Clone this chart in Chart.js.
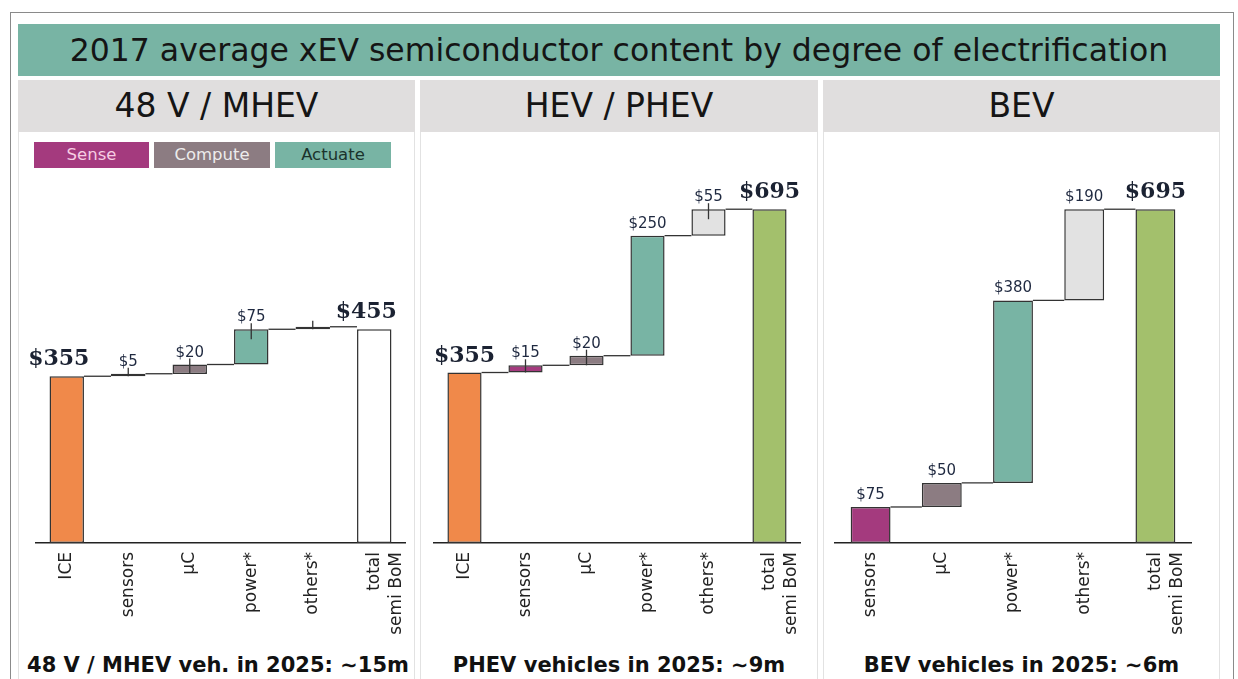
<!DOCTYPE html>
<html>
<head>
<meta charset="utf-8">
<script src="https://cdn.jsdelivr.net/npm/chart.js@4.4.1/dist/chart.umd.min.js"></script>
<style>
  body { margin: 0; background: #fff; font-family: "DejaVu Sans", Verdana, sans-serif; }
  #frame { position: absolute; left: 10px; top: 12px; width: 1222px; height: 700px; border: 1px solid #8a8a8a; }
  #title { position: absolute; left: 18px; top: 24px; width: 1202px; height: 52px; background: #78b4a4;
    color: #151515; font-size: 31.5px; line-height: 52px; text-align: center; }
  .head { position: absolute; top: 80px; height: 52px; background: #e0dede; color: #151515;
    font-size: 33px; line-height: 52px; text-align: center; }
  .body { position: absolute; top: 132px; height: 560px; background: #fff; box-sizing: border-box;
    border-left: 1px solid #e2e2e2; border-right: 1px solid #e2e2e2; }
  canvas { position: absolute; top: 132px; }
  .leg { position: absolute; top: 142px; height: 26px; line-height: 26px; text-align: center; font-size: 16.5px; }
  .foot { position: absolute; top: 651px; height: 28px; line-height: 28px; text-align: center;
    font-size: 21px; font-weight: bold; color: #111; white-space: nowrap; }
</style>
</head>
<body>
<div id="frame"></div>
<div id="title">2017 average xEV semiconductor content by degree of electrification</div>

<div class="head" style="left:18px;width:397px">48 V / MHEV</div>
<div class="head" style="left:420px;width:398px">HEV / PHEV</div>
<div class="head" style="left:823px;width:397px">BEV</div>

<div class="body" style="left:18px;width:397px"></div>
<div class="body" style="left:420px;width:398px"></div>
<div class="body" style="left:823px;width:397px"></div>

<div class="leg" style="left:34px;width:115px;background:#a43a7e;color:#f6cde3">Sense</div>
<div class="leg" style="left:154px;width:116px;background:#8c7c82;color:#ececec">Compute</div>
<div class="leg" style="left:275px;width:116px;background:#78b4a4;color:#1b332c">Actuate</div>

<canvas id="c1" width="397" height="518" style="left:18px"></canvas>
<canvas id="c2" width="398" height="518" style="left:420px"></canvas>
<canvas id="c3" width="397" height="518" style="left:823px"></canvas>

<div class="foot" style="left:18px;width:400px">48 V / MHEV veh. in 2025: ∼15m</div>
<div class="foot" style="left:420px;width:398px">PHEV vehicles in 2025: ∼9m</div>
<div class="foot" style="left:823px;width:397px">BEV vehicles in 2025: ∼6m</div>

<script>
// --- data ---
const mhevLabels = ["ICE", "sensors", "µC", "power*", "others*", ["total", "semi BoM"]];
const mhevValues = [355, 5, 20, 75, 0, 455];

const phevLabels = ["ICE", "sensors", "µC", "power*", "others*", ["total", "semi BoM"]];
const phevValues = [355, 15, 20, 250, 55, 695];

const bevLabels = ["sensors", "µC", "power*", "others*", ["total", "semi BoM"]];
const bevValues = [75, 50, 380, 190, 695];

const yMax = 760;

// colours
const ORANGE = "#f0894a", MAGENTA = "#a43a7e", MAUVE = "#8c7c82",
  TEAL = "#78b4a4", LIGHT = "#e2e2e2", GREEN = "#a3c06c";

// turn step values into floating [start, end] bars; totals start at 0
function toRanges(labels, values) {
  let running = 0;
  return values.map((v, i) => {
    if (Array.isArray(labels[i])) return [0, v];
    const r = [running, running + v];
    running += v;
    return r;
  });
}

// connectors, little whisker ticks and $ labels
const waterfallExtras = {
  id: "waterfallExtras",
  afterDatasetsDraw(chart) {
    const ctx = chart.ctx;
    const cfg = chart.options.plugins.waterfallExtras;
    const bars = chart.getDatasetMeta(0).data;
    const labels = chart.data.labels;
    ctx.save();
    ctx.strokeStyle = "#333";
    ctx.lineWidth = 1.3;
    // connectors
    for (let i = 0; i < bars.length - 1; i++) {
      const a = bars[i], b = bars[i + 1];
      ctx.beginPath();
      ctx.moveTo(a.x + a.width / 2, a.y);
      ctx.lineTo(b.x - b.width / 2, a.y);
      ctx.stroke();
    }
    // whiskers
    bars.forEach((bar, i) => {
      if (!cfg.whiskers[i]) return;
      ctx.beginPath();
      ctx.moveTo(bar.x, bar.y - 6);
      ctx.lineTo(bar.x, Math.min(bar.y + 10, bar.base));
      ctx.stroke();
    });
    // value labels
    ctx.textAlign = "center";
    ctx.textBaseline = "alphabetic";
    bars.forEach((bar, i) => {
      const v = cfg.values[i];
      if (!v) return;
      const big = labels[i] === "ICE" || Array.isArray(labels[i]);
      if (big) {
        ctx.font = "bold 22px 'DejaVu Serif', serif";
        ctx.fillStyle = "#1b2232";
        ctx.fillText("$" + v, bar.x + cfg.bigShift, bar.y - 11);
      } else {
        ctx.font = "15px 'DejaVu Sans', sans-serif";
        ctx.fillStyle = "#1f2940";
        ctx.fillText("$" + v, bar.x, bar.y - 8);
      }
    });
    ctx.restore();
  },
};

function makeChart(id, labels, values, colors, pad, whiskers, bigShift) {
  return new Chart(document.getElementById(id), {
    type: "bar",
    data: {
      labels: labels,
      datasets: [
        {
          data: toRanges(labels, values),
          backgroundColor: colors,
          borderColor: "#333",
          borderWidth: 1.5,
          borderSkipped: false,
          minBarLength: 2.5,
          barPercentage: 0.56,
          categoryPercentage: 1,
        },
      ],
    },
    options: {
      responsive: false,
      animation: false,
      layout: { padding: { left: pad.left, right: pad.right, top: pad.top, bottom: 0 } },
      plugins: {
        legend: { display: false },
        tooltip: { enabled: false },
        waterfallExtras: { values: values, whiskers: whiskers, bigShift: bigShift },
      },
      scales: {
        x: {
          grid: { display: false, drawTicks: false },
          border: { display: true, color: "#222", width: 1.5 },
          ticks: {
            maxRotation: 90,
            minRotation: 90,
            padding: 9,
            color: "#222",
            font: { family: "'DejaVu Sans', sans-serif", size: 17, lineHeight: 1.3 },
          },
          afterFit: (scale) => {
            scale.height = 107;
            // keep the plot area where the layout padding puts it
            scale.paddingLeft = 0;
            scale.paddingRight = 0;
          },
        },
        y: { display: false, min: 0, max: yMax },
      },
    },
    plugins: [waterfallExtras],
  });
}

makeChart("c1", mhevLabels, mhevValues,
  [ORANGE, MAGENTA, MAUVE, TEAL, LIGHT, "#ffffff"],
  { left: 18, right: 10, top: 54 },
  [false, true, true, true, true, false], -8);

makeChart("c2", phevLabels, phevValues,
  [ORANGE, MAGENTA, MAUVE, TEAL, LIGHT, GREEN],
  { left: 14, right: 18, top: 46 },
  [false, true, true, false, true, false], 0);

makeChart("c3", bevLabels, bevValues,
  [MAGENTA, MAUVE, TEAL, LIGHT, GREEN],
  { left: 12, right: 29, top: 46 },
  [false, false, false, false, false], 0);
</script>
</body>
</html>
